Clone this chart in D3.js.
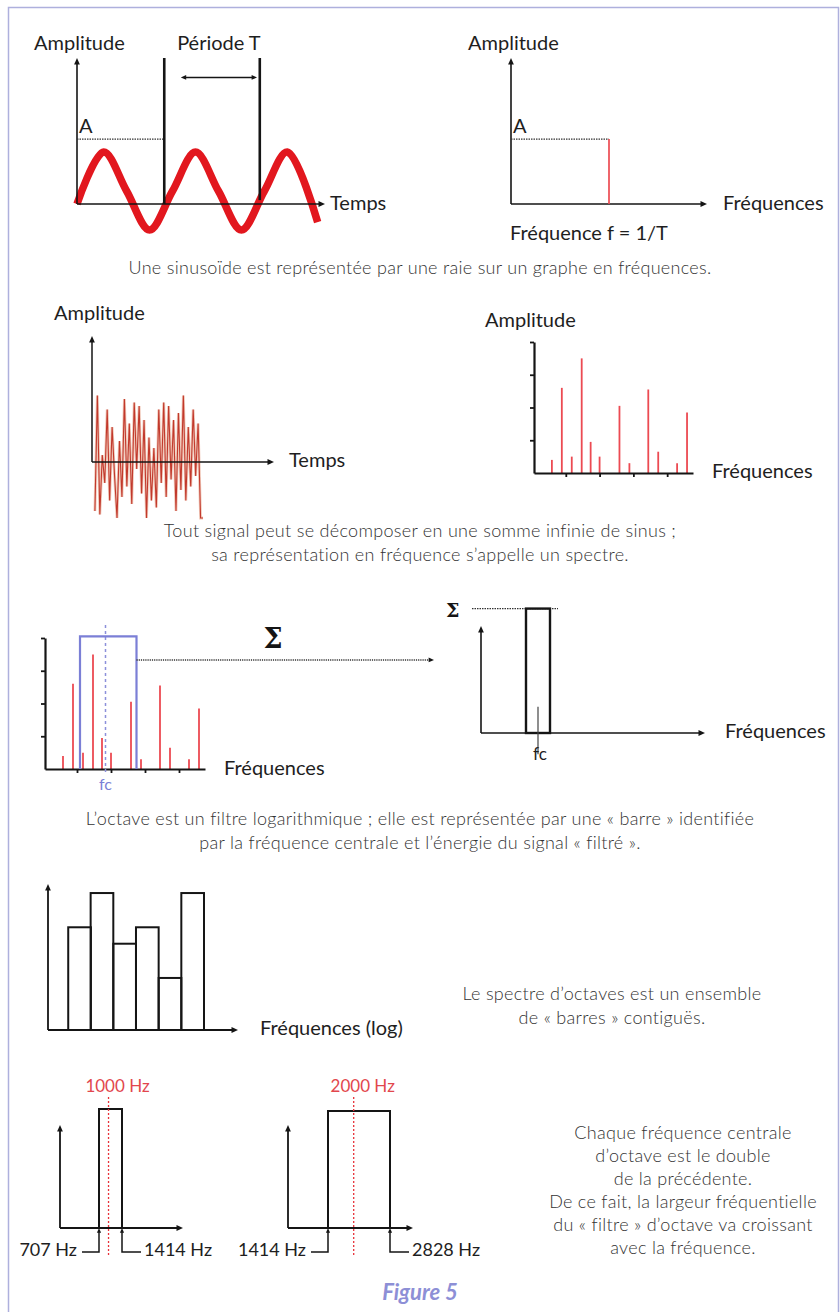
<!DOCTYPE html>
<html><head><meta charset="utf-8">
<script src="https://cdn.jsdelivr.net/npm/d3@7"></script>
<style>
html,body{margin:0;padding:0;background:#fff;}
svg{display:block;}
.lbl{font-family:Lato,"Open Sans",sans-serif;font-size:20px;fill:#1e1e1e;}
.cap{font-family:Lato,"Open Sans",sans-serif;font-weight:300;font-size:18px;letter-spacing:0.3px;fill:#333;}
</style></head><body>
<script>
// ---------------- DATA ----------------
// Panel 1: sinusoid (time in periods, amplitude relative to A)
const sineT   = [0, 0.29, 0.54, 0.79, 1.04, 1.29, 1.54, 1.79, 2.04, 2.29, 2.62];
const sineAmp = [0.0, 0.8, 0.2, -0.4, 0.2, 0.8, 0.2, -0.4, 0.2, 0.8, -0.28];
const periodMarks = [0.95, 1.99];
const amplitudeA = 1;
const lineFrequency = 1; // f = 1/T

// Panel 2: noisy time signal (relative amplitude)
const noiseAmp = [-0.7, 0.95, -0.75, 0.1, -0.3, 0.75, -0.55, 0.5, -0.2, -0.8, 0.3, -0.5, 0.9, -0.35, 0.55,
  -0.6, 0.85, -0.1, 0.8, -0.45, 0.6, -0.8, 0.35, -0.55, 0.2, -0.65, 0.75, -0.3, 0.85, -0.5, 0.8, -0.25,
  0.6, -0.7, 0.7, -0.4, 0.95, -0.55, 0.5, -0.35, 0.75, -0.2, 0.55, -0.8, -0.8];

// Line spectrum (used twice)
const specFreqs = [1.8, 2.8, 3.8, 4.8, 5.7, 6.6, 8.6, 9.6, 11.5, 12.5, 14.4, 15.4];
const specAmps  = [0.4, 2.6, 0.5, 3.5, 0.95, 0.5, 2.05, 0.3, 2.55, 0.65, 0.3, 1.85];
const specFreqTicks = [3.2, 6.6, 10, 13.4];
const specAmpTicks  = [1, 2, 3, 4];

// Panel 3: octave filter band on the spectrum, and resulting bar
const filterBand = [3.5, 9.15];
const filterCenter = 6.05;
const filterTop = 4.05;
const sumBand = [4.5, 6.9];
const sumCenter = 5.7;

// Panel 4: octave spectrum
const octaveCenters = [63, 125, 250, 500, 1000, 2000];
const octaveLevels  = [75, 100, 63, 75, 38, 100];

// Panel 5: two octave bands
const bandCenters = [1000, 2000];
const bandLow     = [707, 1414];
const bandHigh    = [1414, 2828];
const bandLabels  = ["1000 Hz", "2000 Hz"];
const lowLabels   = ["707 Hz", "1414 Hz"];
const highLabels  = ["1414 Hz", "2828 Hz"];

// ---------------- SETUP ----------------
const W = 840, H = 1312;
const svg = d3.select("body").append("svg").attr("width", W).attr("height", H);
svg.append("rect").attr("width", W).attr("height", H).attr("fill", "#fff");
svg.append("path").attr("d", `M8.5,${H} V7.5 H838.5 V${H}`)
  .attr("fill", "none").attr("stroke", "#aeb0dd").attr("stroke-width", 1.5);

const INK = "#151515", RED = "#e2171e", PALE_RED = "#ec4a52", BLUE = "#7b7fd6";

function arrowHead(x, y, dir, s = 3.6) {
  const d = dir === "up"
    ? `M${x},${y} L${x - s * 0.8},${y + s * 1.8} L${x + s * 0.8},${y + s * 1.8}Z`
    : `M${x},${y} L${x - s * 1.8},${y - s * 0.8} L${x - s * 1.8},${y + s * 0.8}Z`;
  svg.append("path").attr("d", d).attr("fill", INK);
}
function line(x1, y1, x2, y2, stroke = INK, w = 1.6, dash = null) {
  const l = svg.append("line").attr("x1", x1).attr("y1", y1).attr("x2", x2).attr("y2", y2)
    .attr("stroke", stroke).attr("stroke-width", w);
  if (dash) l.attr("stroke-dasharray", dash);
  return l;
}
function text(x, y, s, cls = "lbl", anchor = "start") {
  return svg.append("text").attr("x", x).attr("y", y).attr("class", cls).attr("text-anchor", anchor).text(s);
}
function arrowAxes(xs, ys, w = 1.6) {
  const [x0, x1] = xs.range(), [y0, y1] = ys.range();
  line(x0, y0, x1 - 4, y0, INK, w);
  line(x0, y0, x0, y1 + 4, INK, w);
  arrowHead(x1, y0, "right");
  arrowHead(x0, y1, "up");
}

// ---------------- PANEL 1 LEFT : sinusoid ----------------
const x1s = d3.scaleLinear().domain([0, 2.7]).range([77, 325]);
const y1s = d3.scaleLinear().domain([0, 2.25]).range([204, 58]);
const sinePts = sineT.map((t, i) => ({ t, a: sineAmp[i] }));
svg.append("path").datum(sinePts)
  .attr("d", d3.line().x(d => x1s(d.t)).y(d => y1s(d.a)).curve(d3.curveCatmullRom.alpha(0.5)))
  .attr("fill", "none").attr("stroke", RED).attr("stroke-width", 7.5).attr("stroke-linecap", "butt");
arrowAxes(x1s, y1s);
line(x1s(0), y1s(amplitudeA), x1s(periodMarks[0]), y1s(amplitudeA), "#333", 1.4, "1.5,1");
periodMarks.forEach((p, i) => line(x1s(p), y1s(2.25), x1s(p), y1s(i === 0 ? 0 : 0.06), INK, 2.6));
// double arrow for the period
const pa = [1.13, 1.96], pay = y1s(1.95);
line(x1s(pa[0]) + 4, pay, x1s(pa[1]) - 4, pay, INK, 1.5);
arrowHead(x1s(pa[1]), pay, "right", 3);
svg.append("path").attr("d", `M${x1s(pa[0])},${pay} l5.4,-2.4 l0,4.8Z`).attr("fill", INK);
text(34, 50, "Amplitude");
text(x1s(1.545), 50, "Période T", "lbl", "middle");
text(x1s(0) + 2, y1s(amplitudeA) - 6, "A");
text(330, 210, "Temps");

// ---------------- PANEL 1 RIGHT : single line ----------------
const x2s = d3.scaleLinear().domain([0, 2]).range([511, 707]);
arrowAxes(x2s, y1s);
line(x2s(0), y1s(amplitudeA), x2s(lineFrequency), y1s(amplitudeA), "#333", 1.4, "1.5,1");
line(x2s(lineFrequency), y1s(0), x2s(lineFrequency), y1s(amplitudeA), PALE_RED, 1.7);
text(468, 50, "Amplitude");
text(x2s(0) + 2, y1s(amplitudeA) - 6, "A");
text(723, 210, "Fréquences");
text(510, 240, "Fréquence f = 1/T");
text(420, 274, "Une sinusoïde est représentée par une raie sur un graphe en fréquences.", "cap", "middle");

// ---------------- PANEL 2 LEFT : noise ----------------
const x3s = d3.scaleLinear().domain([0, 10]).range([92, 274]);
const y3s = d3.scaleLinear().domain([0, 1.8]).range([462, 336]);
const nx = d3.scalePoint().domain(d3.range(noiseAmp.length)).range([x3s(0.16), x3s(6.1)]);
const noiseLine = d3.line().x((d, i) => nx(i)).y(d => y3s(d));
svg.append("path").datum(noiseAmp).attr("d", noiseLine)
  .attr("fill", "none").attr("stroke", "#e39a80").attr("stroke-width", 2.8).attr("stroke-opacity", 0.55);
svg.append("path").datum(noiseAmp).attr("d", noiseLine)
  .attr("fill", "none").attr("stroke", "#c2392c").attr("stroke-width", 1.1).attr("stroke-linejoin", "miter");
arrowAxes(x3s, y3s, 1.5);
text(54, 320, "Amplitude");
text(289, 467, "Temps");

// ---------------- PANEL 2 RIGHT : line spectrum ----------------
function spectrum(xs, ys) {
  specFreqs.forEach((f, i) =>
    line(xs(f), ys(0), xs(f), ys(specAmps[i]), PALE_RED, 1.8));
  const gy = svg.append("g").attr("transform", `translate(${xs(0)},0)`)
    .call(d3.axisLeft(ys).tickValues(specAmpTicks).tickSize(4).tickSizeOuter(0).tickFormat(""));
  const gx = svg.append("g").attr("transform", `translate(0,${ys(0)})`)
    .call(d3.axisBottom(xs).tickValues(specFreqTicks).tickSize(4).tickSizeOuter(0).tickFormat(""));
  [gx, gy].forEach(g => { g.select(".domain").attr("stroke", INK).attr("stroke-width", 2.2);
    g.selectAll(".tick line").attr("stroke", INK).attr("stroke-width", 1.8); });
}
const x4s = d3.scaleLinear().domain([0, 16]).range([534, 693]);
const y4s = d3.scaleLinear().domain([0, 4]).range([473, 342]);
spectrum(x4s, y4s);
text(485, 327, "Amplitude");
text(712, 478, "Fréquences");
text(420, 537, "Tout signal peut se décomposer en une somme infinie de sinus ;", "cap", "middle");
text(420, 561, "sa représentation en fréquence s’appelle un spectre.", "cap", "middle");

// ---------------- PANEL 3 LEFT : filtered spectrum ----------------
const x5s = d3.scaleLinear().domain([0, 16]).range([45, 205]);
const y5s = d3.scaleLinear().domain([0, 4]).range([769, 638]);
spectrum(x5s, y5s);
line(x5s(filterCenter), y5s(4.4), x5s(filterCenter), y5s(-0.18), "#8c90da", 1.5, "3,3");
svg.append("path")
  .attr("d", `M${x5s(filterBand[0])},${y5s(0)} V${y5s(filterTop)} H${x5s(filterBand[1])} V${y5s(0)}`)
  .attr("fill", "none").attr("stroke", BLUE).attr("stroke-width", 2.2);
text(x5s(filterCenter), 790, "fc", "lbl", "middle").style("font-size", "16px").style("fill", BLUE);
const arrowY = y5s(3.33);
line(x5s(filterBand[1]), arrowY, 430, arrowY, "#333", 1.6, "1.2,1");
arrowHead(434, arrowY, "right", 3);
svg.append("text").attr("x", 273).attr("y", 648).attr("text-anchor", "middle")
  .style("font-family", "'DejaVu Serif','Liberation Serif',serif").style("font-weight", "bold")
  .style("font-size", "27px").style("fill", INK).text("Σ");
text(224, 775, "Fréquences");

// ---------------- PANEL 3 RIGHT : resulting octave bar ----------------
const x6s = d3.scaleLinear().domain([0, 22.4]).range([481, 705]);
const y6s = d3.scaleLinear().domain([0, 0.86]).range([733, 626]);
arrowAxes(x6s, y6s);
line(x6s(-0.9), y6s(1), x6s(7.7), y6s(1), "#333", 1.4, "1.5,1");
svg.append("rect").attr("x", x6s(sumBand[0])).attr("y", y6s(1))
  .attr("width", x6s(sumBand[1]) - x6s(sumBand[0])).attr("height", y6s(0) - y6s(1))
  .attr("fill", "none").attr("stroke", INK).attr("stroke-width", 2.4);
line(x6s(sumCenter), y6s(0.21), x6s(sumCenter), y6s(-0.17), "#444", 1.2);
svg.append("text").attr("x", 446).attr("y", 617)
  .style("font-family", "'DejaVu Serif','Liberation Serif',serif").style("font-weight", "bold")
  .style("font-size", "19px").style("fill", INK).text("Σ");
text(x6s(sumCenter) + 2, 760, "fc", "lbl", "middle").style("font-size", "17px");
text(725, 738, "Fréquences");
text(420, 825, "L’octave est un filtre logarithmique ; elle est représentée par une « barre » identifiée", "cap", "middle");
text(420, 849, "par la fréquence centrale et l’énergie du signal « filtré ».", "cap", "middle");

// ---------------- PANEL 4 : octave spectrum ----------------
const x7s = d3.scaleLog().domain([24, 8000]).range([48, 238]);
const y7s = d3.scaleLinear().domain([0, 106.6]).range([1030, 884]);
svg.append("g").selectAll("rect").data(octaveCenters).join("rect")
  .attr("x", d => x7s(d / Math.SQRT2))
  .attr("width", d => x7s(d * Math.SQRT2) - x7s(d / Math.SQRT2))
  .attr("y", (d, i) => y7s(octaveLevels[i]))
  .attr("height", (d, i) => y7s(0) - y7s(octaveLevels[i]))
  .attr("fill", "none").attr("stroke", INK).attr("stroke-width", 2);
arrowAxes(x7s, y7s, 1.8);
text(260, 1035, "Fréquences (log)");
text(612, 1000, "Le spectre d’octaves est un ensemble", "cap", "middle");
text(612, 1024, "de « barres » contiguës.", "cap", "middle");

// ---------------- PANEL 5 : two octave bands ----------------
const yBs = d3.scaleLinear().domain([0, 0.873]).range([1228, 1125]);
const bandAxes = [[60, 183], [288, 413]];
const bandRects = [[99, 122], [328, 390]];
bandCenters.forEach((fc, i) => {
  const xs = d3.scaleLinear().domain([bandLow[i], bandHigh[i]]).range(bandRects[i]);
  const ax = d3.scaleLinear().range(bandAxes[i]);
  arrowAxes(ax, yBs, 1.8);
  const xl = xs(bandLow[i]), xh = xs(bandHigh[i]), top = yBs(1) - (i === 0 ? 1 : -1);
  svg.append("path").attr("d", `M${xl},${yBs(0)} V${top} H${xh} V${yBs(0)}`)
    .attr("fill", "none").attr("stroke", INK).attr("stroke-width", 2);
  line(xs(fc), yBs(1.11), xs(fc), yBs(-0.23), "#e8323a", 1.3, "2,2");
  text(xs(fc) + 9, 1092, bandLabels[i], "lbl", "middle").style("font-size", "17px").style("fill", "#e2474d");
  arrowHead(xl, yBs(0), "up", 2.6);
  arrowHead(xh, yBs(0), "up", 2.6);
  svg.append("path").attr("d", `M${xl},${yBs(0) + 4} V1252 H${xl - 17}`).attr("fill", "none").attr("stroke", INK).attr("stroke-width", 1.5);
  svg.append("path").attr("d", `M${xh},${yBs(0) + 4} V1252 H${xh + 19}`).attr("fill", "none").attr("stroke", INK).attr("stroke-width", 1.5);
  text(xl - 22, 1256, lowLabels[i], "lbl", "end").style("font-size", "18px");
  text(xh + 22, 1256, highLabels[i], "lbl", "start").style("font-size", "18px");
});
const rightText = ["Chaque fréquence centrale", "d’octave est le double", "de la précédente.",
  "De ce fait, la largeur fréquentielle", "du « filtre » d’octave va croissant", "avec la fréquence."];
rightText.forEach((s, i) => text(683, 1139 + i * 23, s, "cap", "middle"));
svg.append("text").attr("x", 420).attr("y", 1300).attr("text-anchor", "middle")
  .style("font-family", "Lato,'Open Sans',sans-serif").style("font-weight", "bold").style("font-style", "italic")
  .style("font-size", "22px").style("fill", "#8d8fd6").text("Figure 5");
</script></body></html>
